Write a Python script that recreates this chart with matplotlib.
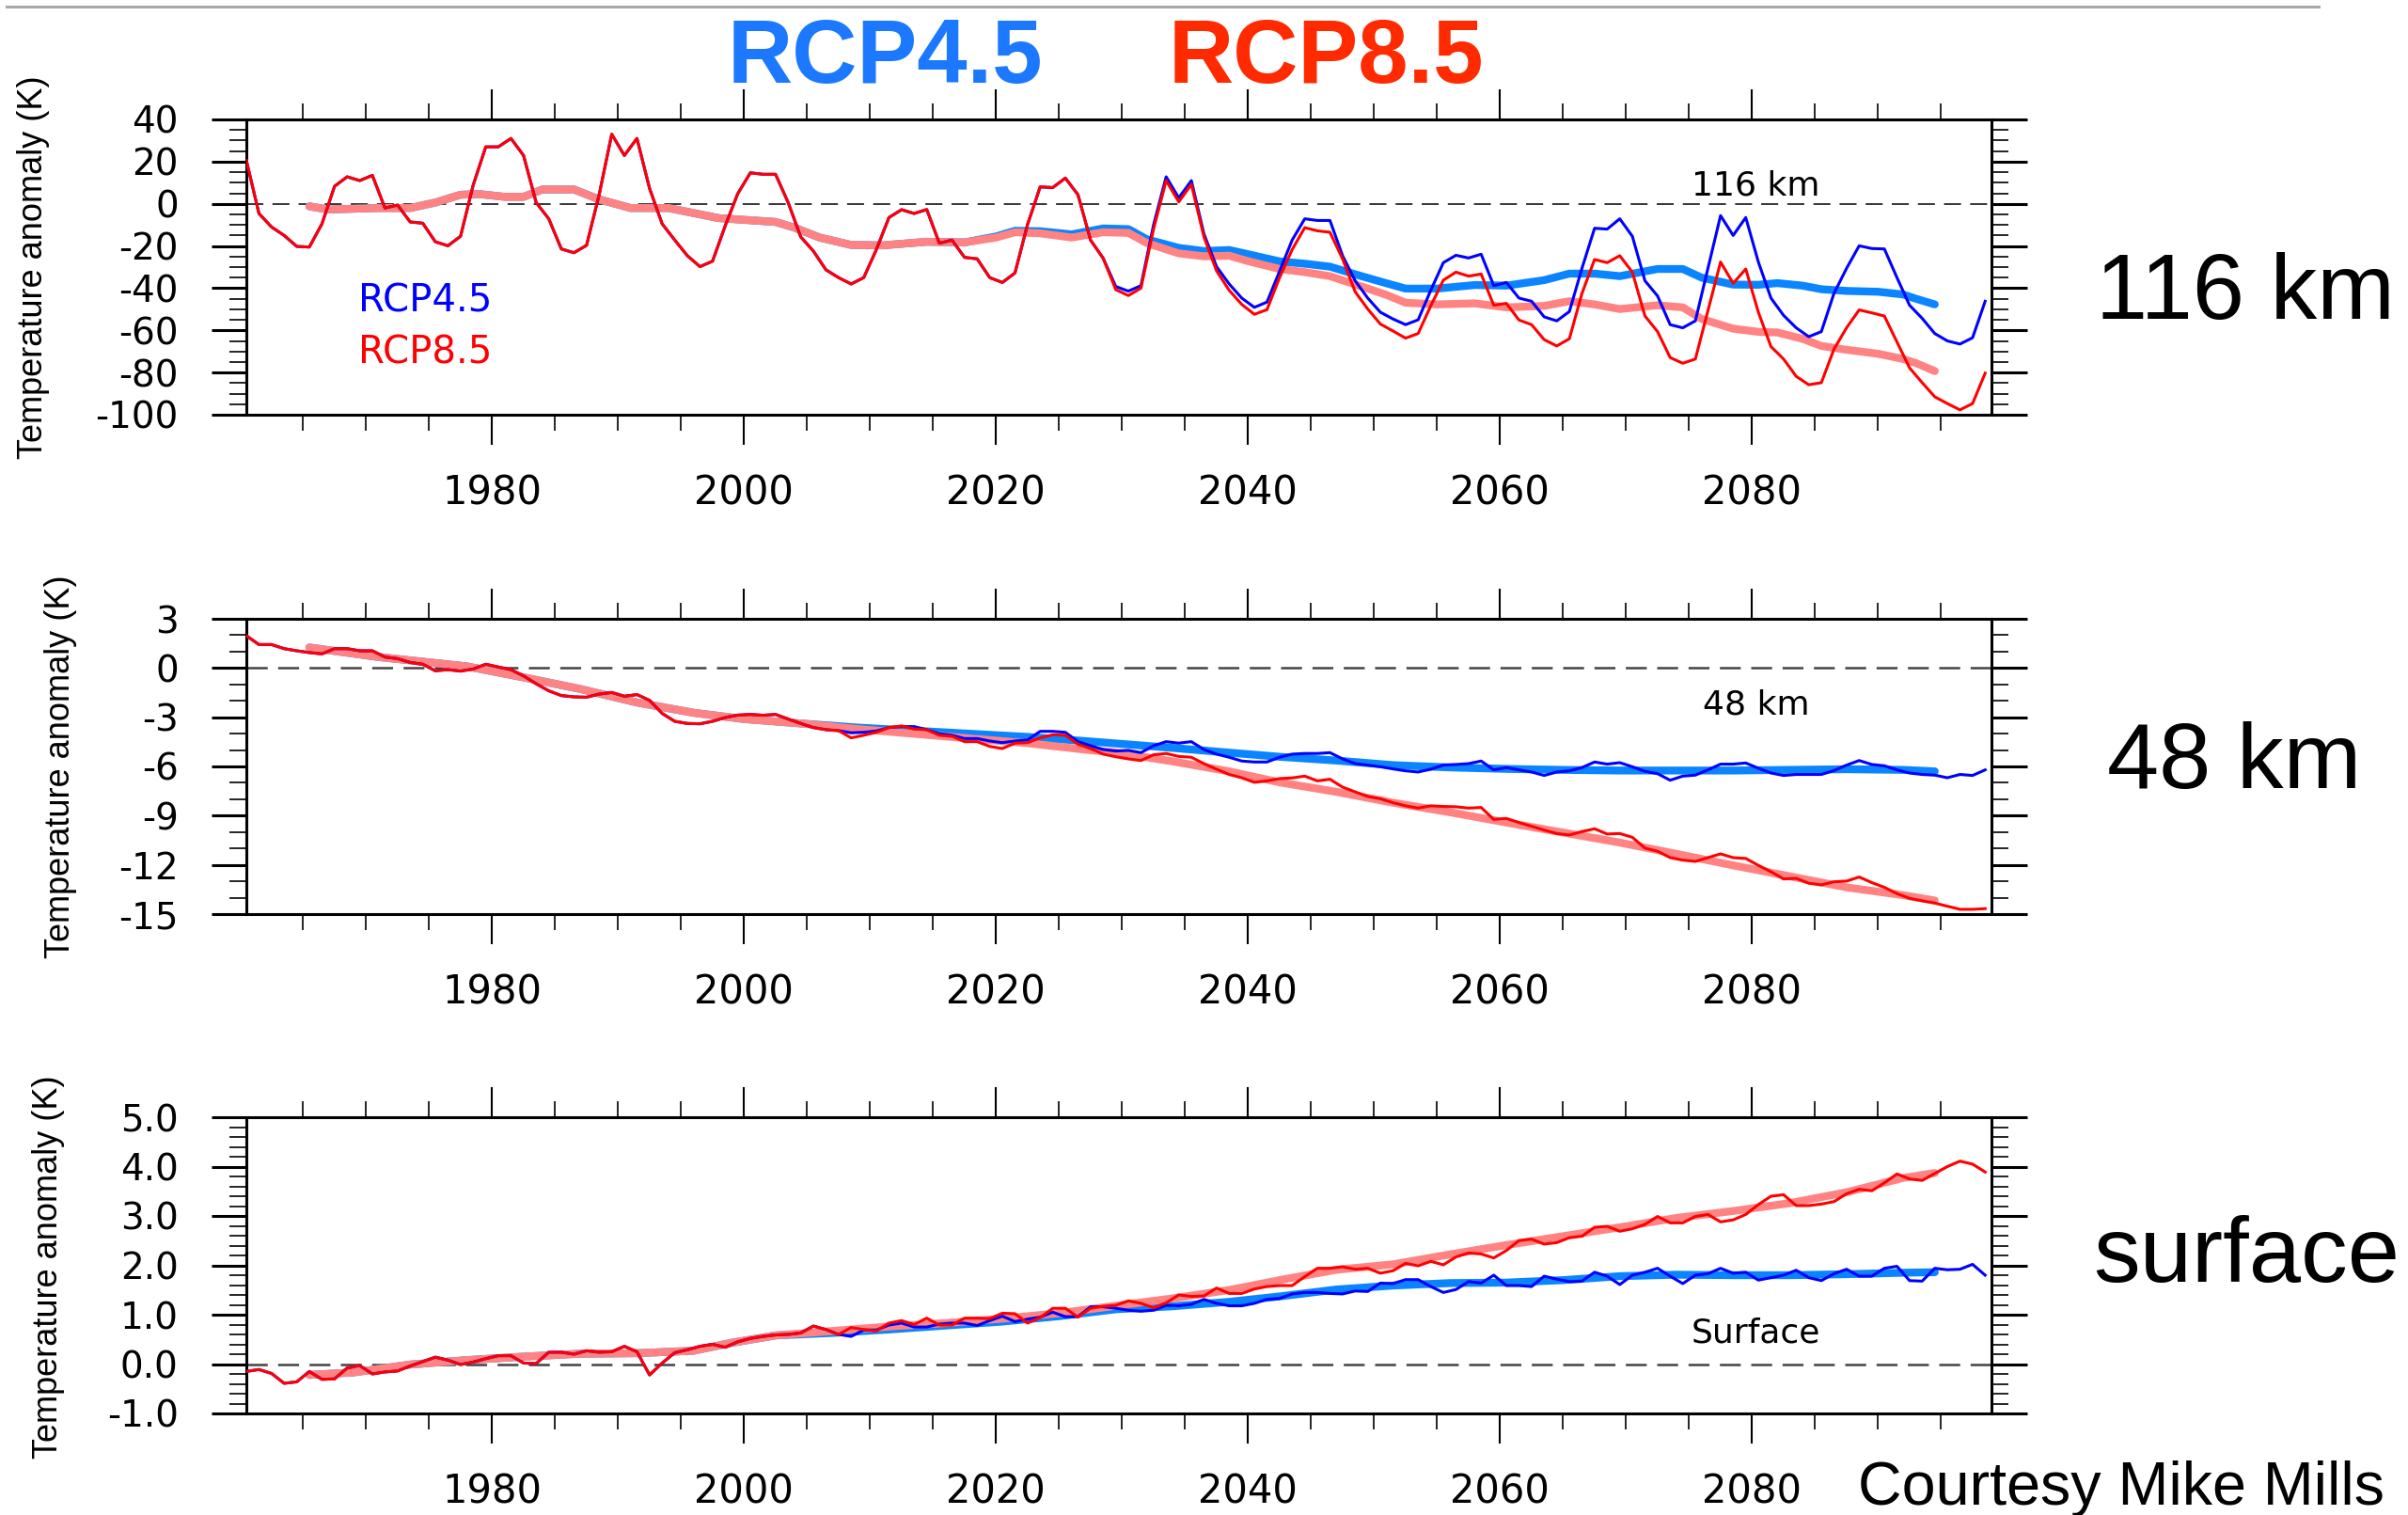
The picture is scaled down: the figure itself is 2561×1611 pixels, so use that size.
import numpy as np
import matplotlib.pyplot as plt
from matplotlib.lines import Line2D
from matplotlib.ticker import MultipleLocator, FormatStrFormatter

plt.rcParams['lines.scale_dashes'] = False
plt.rcParams['axes.unicode_minus'] = False
plt.rcParams['font.family'] = 'DejaVu Sans'

W, H = 2561, 1611

# annual means, plotted at mid-year
years = np.arange(1960.5, 2099.0, 1.0)

# ---- 116 km -------------------------------------------------------------
top_hist = [20.6, -4.6, -11.0, -15.0, -20.2, -20.5, -9.5, 8.3, 12.8, 11.0,
            13.5, -2.0, -0.6, -8.6, -9.2, -18.0, -19.9, -15.4, 8.8, 27.0,
            27.0, 31.0, 22.9, 0.6, -7.1, -21.4, -23.2, -19.7, 4.3, 33.0,
            22.9, 31.0, 7.3, -9.5, -17.2, -24.6, -29.8, -27.2, -10.5, 4.8,
            14.7, 14.0, 14.0, 0.6, -15.7, -22.4, -31.3, -35.0, -38.0, -35.0,
            -21.7, -6.5, -2.8, -4.6, -2.7, -18.7, -17.2, -25.4, -26.1, -35.0,
            -37.3, -32.8, -9.8, 8.0, 7.7, 12.2, 4.3, -17.2, -25.8]
top_rcp45 = [-39.2, -41.4, -38.8, -10.0, 12.8, 2.8, 11.0, -14.3, -29.8, -38.0,
             -44.7, -49.1, -46.6, -32.0, -17.2, -7.1, -7.9, -7.9, -24.6, -36.5,
             -44.7, -51.4, -54.6, -57.3, -55.0, -41.0, -27.9, -24.4, -25.7, -23.9,
             -38.8, -37.3, -44.7, -46.2, -53.6, -55.5, -51.1, -30.6, -11.6, -12.0,
             -7.1, -15.4, -36.5, -43.7, -57.3, -58.8, -55.5, -30.6, -5.6, -15.0,
             -6.5, -27.6, -44.7, -52.9, -58.8, -63.0, -60.6, -42.5, -30.6, -19.9,
             -21.2, -21.4, -35.0, -48.1, -54.3, -61.5, -65.0, -66.5, -63.5, -46.2]
top_rcp85 = [-40.7, -43.5, -40.0, -12.0, 11.0, 0.9, 9.2, -15.7, -31.8, -41.0,
             -47.7, -52.4, -50.2, -35.0, -21.7, -11.3, -12.8, -13.5, -26.1, -41.7,
             -49.9, -57.0, -60.3, -63.7, -61.5, -48.4, -36.2, -32.4, -34.3, -33.3,
             -48.1, -47.2, -55.1, -57.3, -64.4, -67.4, -64.0, -42.5, -26.4, -27.9,
             -24.6, -32.4, -53.2, -60.6, -72.9, -75.6, -73.6, -50.6, -27.6, -37.7,
             -30.9, -51.4, -67.7, -73.6, -81.8, -85.8, -84.8, -68.9, -58.8, -50.3,
             -51.7, -53.2, -65.5, -77.8, -84.8, -91.5, -94.7, -97.7, -94.7, -80.3]

# running means
top_sm_x = [1965.5, 1967, 1971, 1973.5, 1975.5, 1977.5, 1979, 1981, 1982.5, 1984,
            1986.5, 1988.5, 1991, 1994, 1998, 2002.5, 2004, 2006, 2008.5, 2011,
            2014.5, 2017.5, 2020, 2021.5, 2023.5, 2026, 2028.5, 2030.5, 2032, 2034.5,
            2036.5, 2038.5, 2040, 2042.5, 2044.5, 2046.5, 2049, 2051, 2052.5, 2055,
            2058, 2060.5, 2063.5, 2065.5, 2067.5, 2069.5, 2072.5, 2074.5, 2076, 2078.5,
            2080.5, 2082, 2084, 2085.5, 2087.5, 2090, 2092, 2093, 2094.5]
top_sm45 = [-1.2, -2.7, -2.0, -2.0, 0.6, 4.3, 4.6, 3.3, 3.3, 6.8,
            6.8, 2.1, -2.0, -2.0, -6.8, -8.6, -11.3, -16.0, -19.5, -19.7,
            -18.0, -18.3, -15.5, -12.8, -13.0, -14.5, -11.7, -12.0, -16.9, -20.9,
            -22.4, -21.9, -23.9, -27.3, -28.4, -29.8, -34.3, -37.7, -40.2, -40.2,
            -38.5, -38.8, -36.2, -33.1, -33.1, -34.3, -30.9, -30.9, -35.0, -38.3,
            -38.4, -37.6, -38.8, -40.5, -41.3, -41.7, -43.0, -45.0, -47.7]
top_sm85 = [-1.2, -2.7, -2.0, -2.0, 0.6, 4.3, 4.6, 3.3, 3.3, 6.8,
            6.8, 2.1, -2.0, -2.0, -6.8, -8.6, -11.3, -16.0, -19.5, -19.7,
            -18.0, -18.3, -16.0, -13.5, -14.0, -16.0, -13.5, -13.8, -18.7, -23.5,
            -24.9, -24.6, -27.2, -30.9, -32.4, -34.3, -39.2, -43.2, -46.9, -47.7,
            -47.2, -49.1, -48.4, -46.2, -47.7, -49.9, -48.1, -49.1, -54.6, -59.2,
            -60.7, -61.0, -64.0, -67.4, -69.2, -71.1, -73.6, -75.5, -79.3]

# ---- 48 km --------------------------------------------------------------
mid_hist = [1.97, 1.43, 1.43, 1.18, 1.05, 0.94, 0.86, 1.18, 1.18, 1.05,
            1.05, 0.67, 0.57, 0.34, 0.23, -0.17, -0.10, -0.19, -0.06, 0.23,
            0.06, -0.10, -0.48, -0.96, -1.39, -1.68, -1.76, -1.78, -1.59, -1.49,
            -1.72, -1.62, -1.97, -2.77, -3.25, -3.38, -3.40, -3.25, -3.02, -2.87,
            -2.83, -2.88, -2.83, -3.11, -3.38, -3.63, -3.76, -3.82]
mid_rcp45 = [-3.95, -3.92, -3.84, -3.63, -3.57, -3.57, -3.76, -4.01, -4.10, -4.30,
             -4.30, -4.45, -4.55, -4.45, -4.39, -3.86, -3.86, -3.92, -4.49, -4.74,
             -4.97,
             -5.06, -5.02, -5.16, -4.74, -4.49, -4.58, -4.49, -4.97, -5.25, -5.44,
             -5.67, -5.73, -5.73, -5.44, -5.25, -5.21, -5.21, -5.16, -5.54, -5.83,
             -5.92, -6.02, -6.15, -6.27, -6.34, -6.17, -5.92, -5.88, -5.83, -5.67,
             -6.21, -6.07, -6.21, -6.34, -6.55, -6.34, -6.27, -6.07, -5.73, -5.86,
             -5.77, -6.02, -6.30, -6.44, -6.84, -6.59, -6.53, -6.21, -5.86, -5.86,
             -5.79, -6.11, -6.40, -6.55, -6.49, -6.49, -6.49, -6.25, -5.92, -5.64,
             -5.88, -5.96, -6.21, -6.40, -6.49, -6.53, -6.69, -6.49, -6.55, -6.21]
mid_rcp85 = [-4.26, -4.10, -3.92, -3.63, -3.53, -3.72, -3.76, -4.10, -4.16, -4.49,
             -4.49, -4.78, -4.91, -4.58, -4.55, -4.26, -4.07, -4.10, -4.64, -4.91,
             -5.25,
             -5.41, -5.54, -5.64, -5.29, -5.21, -5.39, -5.44, -5.83, -6.17, -6.49,
             -6.69, -6.97, -6.88, -6.74, -6.70, -6.59, -6.88, -6.78, -7.26, -7.55,
             -7.83, -7.97, -8.21, -8.40, -8.54, -8.40, -8.44, -8.46, -8.54, -8.50,
             -9.23, -9.17, -9.42, -9.65, -9.88, -10.09, -10.18, -9.97, -9.80, -10.12,
             -10.09, -10.32, -10.98, -11.17, -11.56, -11.71, -11.79, -11.56, -11.33, -11.56,
             -11.61, -12.03, -12.42, -12.86, -12.82, -13.12, -13.22, -13.03, -12.99, -12.74,
             -13.08, -13.37, -13.75, -14.04, -14.19, -14.33, -14.52, -14.71, -14.71, -14.67]

mid_sm_x = [1965.5, 1971, 1978, 1982.5, 1987, 1991.5, 1996, 2000, 2004.5, 2009,
            2013.5, 2018, 2022.5, 2027, 2029.5, 2034, 2038.5, 2042.5, 2047, 2051.5,
            2056, 2060.5, 2065, 2069.5, 2074, 2078.5, 2083, 2087.5, 2092, 2094.5]
mid_sm45 = [1.25, 0.67, 0.10, -0.57, -1.28, -2.10, -2.73, -3.11, -3.38, -3.63,
            -3.82, -4.01, -4.20, -4.45, -4.60, -4.87, -5.16, -5.41, -5.64, -5.92,
            -6.06, -6.15, -6.21, -6.25, -6.25, -6.25, -6.21, -6.17, -6.21, -6.30]
mid_sm85 = [1.25, 0.67, 0.10, -0.57, -1.28, -2.10, -2.73, -3.11, -3.38, -3.72,
            -4.01, -4.30, -4.58, -4.97, -5.15, -5.69, -6.30, -6.97, -7.55, -8.21,
            -8.79, -9.42, -10.03, -10.64, -11.33, -12.03, -12.70, -13.37, -13.85, -14.17]

# ---- surface ------------------------------------------------------------
sfc_hist = [-0.15, -0.11, -0.19, -0.39, -0.36, -0.15, -0.31, -0.30, -0.08, -0.03,
            -0.20, -0.16, -0.14, -0.04, 0.05, 0.14, 0.08, -0.01, 0.04, 0.11,
            0.17, 0.17, 0.02, 0.01, 0.24, 0.24, 0.20, 0.27, 0.24, 0.25,
            0.36, 0.25, -0.22, 0.02, 0.23, 0.29, 0.36, 0.40, 0.34, 0.45,
            0.52, 0.56, 0.59, 0.60, 0.63, 0.77, 0.70]
sfc_rcp45 = [0.60, 0.56, 0.69, 0.69, 0.79, 0.83, 0.75, 0.75, 0.81, 0.83,
             0.83, 0.78, 0.88, 0.97, 0.86, 0.91, 0.95, 1.05, 0.96, 0.96,
             1.16, 1.16,
             1.13, 1.09, 1.07, 1.09, 1.19, 1.18, 1.21, 1.31, 1.23, 1.18,
             1.18, 1.23, 1.31, 1.33, 1.42, 1.45, 1.45, 1.43, 1.42, 1.48,
             1.47, 1.64, 1.63, 1.71, 1.71, 1.57, 1.45, 1.51, 1.67, 1.64,
             1.80, 1.59, 1.59, 1.57, 1.78, 1.72, 1.67, 1.68, 1.86, 1.78,
             1.61, 1.80, 1.86, 1.94, 1.78, 1.63, 1.80, 1.83, 1.94, 1.84,
             1.86, 1.70, 1.75, 1.80, 1.90, 1.75, 1.69, 1.83, 1.92, 1.78,
             1.78, 1.94, 1.98, 1.69, 1.68, 1.94, 1.91, 1.92, 2.02, 1.80]
sfc_rcp85 = [0.60, 0.74, 0.70, 0.67, 0.83, 0.88, 0.80, 0.93, 0.79, 0.79,
             0.93, 0.93, 0.92, 1.03, 1.02, 0.83, 0.94, 1.13, 1.13, 0.95,
             1.13, 1.17,
             1.19, 1.28, 1.23, 1.14, 1.24, 1.40, 1.37, 1.38, 1.54, 1.43,
             1.43, 1.52, 1.57, 1.59, 1.59, 1.77, 1.94, 1.94, 1.97, 1.92,
             1.94, 1.84, 1.89, 2.04, 1.99, 2.08, 2.01, 2.17, 2.25, 2.23,
             2.15, 2.30, 2.50, 2.53, 2.43, 2.46, 2.56, 2.59, 2.77, 2.79,
             2.69, 2.74, 2.83, 2.99, 2.86, 2.86, 2.99, 3.03, 2.88, 2.92,
             3.03, 3.23, 3.40, 3.43, 3.21, 3.21, 3.24, 3.29, 3.45, 3.54,
             3.51, 3.67, 3.85, 3.75, 3.72, 3.86, 4.00, 4.11, 4.05, 3.89]

sfc_sm_x = [1965.5, 1969, 1973.5, 1978, 1982.5, 1987, 1991.5, 1996, 1999, 2002.5,
            2007, 2011.5, 2016, 2020.5, 2025, 2029.5, 2034, 2038.5, 2042.5, 2047,
            2051.5, 2056, 2060.5, 2065, 2069.5, 2074, 2078.5, 2083, 2087.5, 2092, 2094.5]
sfc_sm45 = [-0.22, -0.17, -0.01, 0.08, 0.15, 0.21, 0.22, 0.27, 0.43, 0.58,
            0.63, 0.70, 0.78, 0.86, 0.97, 1.11, 1.17, 1.26, 1.37, 1.51,
            1.59, 1.64, 1.65, 1.70, 1.78, 1.81, 1.80, 1.80, 1.82, 1.85, 1.86]
sfc_sm85 = [-0.22, -0.17, -0.01, 0.08, 0.15, 0.21, 0.22, 0.27, 0.43, 0.58,
            0.67, 0.76, 0.83, 0.92, 1.03, 1.18, 1.33, 1.50, 1.70, 1.91,
            2.02, 2.22, 2.41, 2.59, 2.77, 2.96, 3.10, 3.26, 3.48, 3.77, 3.87]

BLUE = '#0000ff'
RED = '#ff0000'
BLUE_SM = '#0a84ff'
RED_SM = '#ff8383'


def add_panel(top, bottom):
    # panel box given in pixels from the top-left corner of the figure
    left, right = 262, 2118
    return fig.add_axes([left / W, 1 - bottom / H, (right - left) / W, (bottom - top) / H])


def draw_panel(ax, hist, rcp45, rcp85, sm_x, sm45, sm85, ylim, major, minor, fmt,
               zero_color, zero_lw, dashes):
    ax.plot(sm_x, sm45, color=BLUE_SM, lw=6, solid_capstyle='round', zorder=2)
    ax.plot(sm_x, sm85, color=RED_SM, lw=6, solid_capstyle='round', zorder=3)
    ax.plot(years, hist + rcp45, color=BLUE, lw=2.2, zorder=4)
    ax.plot(years, hist + rcp85, color=RED, lw=2.2, zorder=5)
    ax.axhline(0, color=zero_color, lw=zero_lw, dashes=dashes, zorder=1)

    ax.set_xlim(1960.5, 2099.0)
    ax.set_ylim(*ylim)
    ax.xaxis.set_major_locator(MultipleLocator(20))
    ax.xaxis.set_minor_locator(MultipleLocator(5))
    ax.yaxis.set_major_locator(MultipleLocator(major))
    ax.yaxis.set_minor_locator(MultipleLocator(minor))
    ax.yaxis.set_major_formatter(FormatStrFormatter(fmt))

    ax.tick_params(axis='x', which='major', direction='out', length=23, width=1.5,
                   top=True, bottom=True, labeltop=False, pad=22, labelsize=30)
    ax.tick_params(axis='x', which='minor', direction='out', length=12, width=1.2,
                   top=True, bottom=True)
    ax.tick_params(axis='y', which='major', direction='out', length=27, width=2.2,
                   left=True, right=True, labelright=False, pad=25, labelsize=28)
    ax.tick_params(axis='y', which='minor', direction='out', length=13, width=1.2,
                   left=True, right=True)
    for sp in ax.spines.values():
        sp.set_linewidth(2.2)


fig = plt.figure(figsize=(W / 100, H / 100), dpi=100)

ax1 = add_panel(127, 441)
draw_panel(ax1, top_hist, top_rcp45, top_rcp85, top_sm_x, top_sm45, top_sm85,
           (-100, 40), 20, 5, '%d', 'black', 1.1, (13, 7))
ax1.text(0.865, 0.745, '116 km', transform=ax1.transAxes, ha='center',
         va='baseline', fontsize=26)
ax1.text(0.064, 0.350, 'RCP4.5', transform=ax1.transAxes, color=BLUE,
         va='baseline', fontsize=29)
ax1.text(0.064, 0.172, 'RCP8.5', transform=ax1.transAxes, color=RED,
         va='baseline', fontsize=29)

ax2 = add_panel(658, 972)
draw_panel(ax2, mid_hist, mid_rcp45, mid_rcp85, mid_sm_x, mid_sm45, mid_sm85,
           (-15, 3), 3, 1, '%d', '#444444', 1.8, (16, 8))
ax2.text(0.865, 0.678, '48 km', transform=ax2.transAxes, ha='center',
         va='baseline', fontsize=26)

ax3 = add_panel(1188, 1503)
draw_panel(ax3, sfc_hist, sfc_rcp45, sfc_rcp85, sfc_sm_x, sfc_sm45, sfc_sm85,
           (-1, 5), 1, 0.2, '%.1f', '#444444', 1.8, (16, 8))
ax3.text(0.865, 0.241, 'Surface', transform=ax3.transAxes, ha='center',
         va='baseline', fontsize=26)

# y axis titles
for xc, yc in [(36, 284), (65, 815), (52, 1347)]:
    fig.text(xc / W, 1 - yc / H, 'Temperature anomaly (K)', rotation=90,
             ha='center', va='center', fontsize=26, family='Liberation Sans')

# headline scenario names and level names
fig.add_artist(Line2D([7 / W, 2466 / W], [1 - 7 / H, 1 - 7 / H],
                      color='#a8a8a8', lw=2.2))
fig.text(941 / W, 1 - 88 / H, 'RCP4.5', color='#1c78ff', fontsize=69,
         fontweight='bold', family='Liberation Sans', ha='center', va='baseline')
fig.text(1410 / W, 1 - 88 / H, 'RCP8.5', color='#ff2a00', fontsize=69,
         fontweight='bold', family='Liberation Sans', ha='center', va='baseline')

for x0, yb, s in [(2229, 339, '116 km'), (2241, 838, '48 km'), (2226, 1363, 'surface')]:
    fig.text(x0 / W, 1 - yb / H, s, fontsize=71.5, family='Liberation Sans',
             ha='left', va='baseline')

fig.text(1976 / W, 1 - 1600 / H, 'Courtesy Mike Mills', fontsize=46.5,
         family='Liberation Sans', ha='left', va='baseline')

fig.savefig('out.png', dpi=100)
